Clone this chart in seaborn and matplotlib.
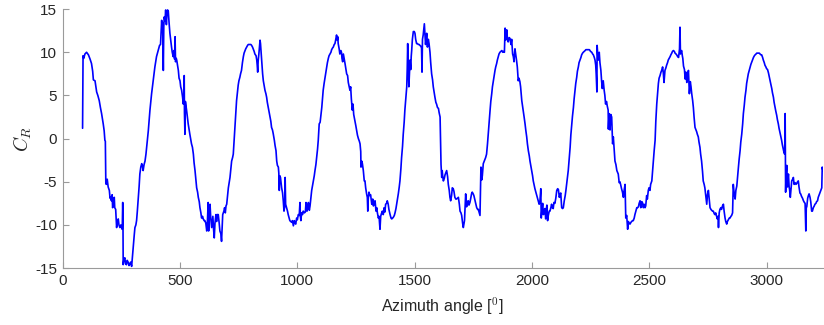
import matplotlib
matplotlib.use("Agg")
import matplotlib.pyplot as plt
import seaborn as sns
import pandas as pd

# Rotor coefficient C_R against azimuth angle, one list of (azimuth, C_R) per revolution
rev_1 = [(85, 1.2), (87, 9.6), (90, 9.3), (95, 9.8), (102, 10.0), (110, 9.7), (117, 9.2), (123, 8.7), (128, 7.8),
         (131, 6.8), (138, 6.7), (145, 5.4), (150, 5.0), (156, 4.4), (161, 3.6), (166, 2.9), (173, 1.7), (177, 0.9),
         (180, -0.2), (182, -0.3), (184, -5.1), (186, -5.3), (190, -4.7), (194, -5.6), (199, -6.0), (202, -6.9),
         (204, -6.8), (208, -7.2), (211, -6.5), (213, -8.0), (216, -7.6), (220, -6.8), (222, -8.0), (226, -8.2),
         (230, -10.3), (233, -9.6), (237, -9.3), (240, -10.0), (244, -10.3), (248, -10.0), (251, -10.3), (254, -10.5),
         (256, -7.4), (257, -9.0), (258, -14.6), (261, -14.0), (265, -13.8), (268, -14.5), (272, -14.6), (275, -14.1),
         (279, -14.3), (283, -14.7), (286, -14.5), (290, -14.3), (294, -14.8), (297, -13.8), (301, -12.4),
         (305, -11.2), (308, -10.3), (312, -10.0), (315, -9.5), (318, -8.5), (322, -7.0), (326, -5.5), (329, -4.1),
         (333, -3.3), (337, -2.9), (340, -3.2), (343, -3.7), (347, -3.0), (351, -2.6), (355, -1.8), (358, -1.0)]
rev_2 = [(365, 0.9), (372, 3.3), (379, 5.2), (386, 6.7), (393, 8.3), (400, 9.5), (407, 10.2), (413, 10.8),
         (417, 10.9), (420, 12.5), (422, 13.7), (424, 12.6), (426, 13.4), (429, 7.9), (431, 13.0), (433, 14.1),
         (436, 13.6), (439, 14.9), (442, 13.2), (445, 14.6), (447, 14.9), (450, 14.8), (453, 13.6), (457, 12.2),
         (460, 11.5), (464, 10.6), (467, 10.0), (471, 9.5), (474, 10.2), (477, 9.2), (479, 11.8), (481, 8.9),
         (484, 9.3), (486, 9.1), (490, 8.4), (493, 7.9), (496, 7.0), (500, 6.7), (503, 6.0), (507, 5.6), (511, 4.8),
         (514, 4.0), (516, 4.8), (518, 7.3), (519, 3.0), (521, 0.5), (523, 4.3), (528, 3.3), (532, 2.4), (535, 1.7),
         (539, 1.0), (542, 0.5), (546, -0.1), (549, -0.6), (553, -1.0), (557, -1.8), (560, -2.8), (564, -3.7),
         (567, -4.6), (571, -5.7), (575, -6.2), (578, -6.8), (582, -7.3), (585, -8.0), (589, -8.6), (592, -9.2),
         (596, -9.0), (599, -9.3), (603, -9.5), (606, -9.5), (610, -9.8), (614, -10.7), (617, -9.5), (620, -7.4),
         (622, -10.7), (625, -8.4), (628, -7.6), (631, -9.2), (635, -10.3), (640, -9.0), (643, -10.5), (646, -11.5),
         (649, -9.8), (653, -8.8), (656, -9.6), (658, -8.8), (663, -8.8), (667, -9.8), (670, -10.7), (674, -11.0),
         (677, -11.9), (680, -10.2), (682, -8.8), (687, -8.4), (690, -8.0), (693, -8.6), (696, -7.8), (699, -7.6),
         (702, -6.8), (706, -5.7), (710, -5.0), (713, -4.5), (717, -3.4)]
rev_3 = [(720, -2.6), (724, -2.2), (727, -1.8), (731, 0.0), (734, 1.3), (738, 3.0), (741, 4.4), (745, 5.5),
         (748, 6.2), (751, 6.7), (755, 7.1), (758, 7.5), (762, 7.9), (766, 8.8), (770, 9.5), (773, 9.9), (777, 10.2),
         (780, 10.4), (784, 10.6), (788, 10.8), (791, 10.9), (795, 10.9), (798, 10.9), (802, 10.9), (805, 10.8),
         (809, 10.6), (812, 10.4), (816, 10.1), (819, 9.8), (824, 9.6), (827, 9.1), (829, 8.5), (831, 7.7),
         (833, 9.0), (836, 9.8), (838, 10.5), (841, 11.4), (843, 11.0), (845, 10.2), (848, 9.1), (850, 8.2),
         (852, 7.5), (855, 6.7), (858, 6.2), (862, 5.6), (866, 5.2), (869, 4.8), (872, 4.2), (876, 3.6), (880, 3.0),
         (883, 2.5), (887, 2.0), (890, 1.3), (894, 1.0), (897, 0.6), (902, -0.2), (905, -0.8), (909, -1.4),
         (912, -2.6), (915, -3.1), (919, -3.3), (921, -4.0), (923, -6.0), (925, -4.3), (928, -4.5), (933, -5.7),
         (937, -6.3), (940, -7.2), (943, -8.4), (946, -7.9), (948, -4.5), (950, -7.6), (954, -8.0), (958, -8.4),
         (961, -8.8), (965, -9.2), (968, -9.5), (972, -9.6), (976, -9.7), (979, -9.5), (983, -10.1), (987, -9.5),
         (990, -9.8), (993, -9.9), (997, -9.2), (1000, -9.4), (1004, -8.8), (1008, -8.9), (1011, -7.4),
         (1013, -9.0), (1015, -9.5), (1018, -8.6), (1022, -8.8), (1025, -8.4), (1030, -8.6), (1034, -8.5),
         (1037, -7.4), (1041, -8.4), (1044, -8.0), (1047, -7.4), (1051, -8.3), (1054, -7.8), (1058, -6.8),
         (1061, -6.0), (1065, -5.4), (1068, -4.9), (1072, -4.3), (1075, -3.7), (1079, -3.0)]
rev_4 = [(1082, -2.2), (1086, -1.2), (1089, -0.2), (1093, 1.7), (1097, 1.9), (1100, 2.6), (1104, 3.6),
         (1107, 4.6), (1110, 5.6), (1114, 6.4), (1118, 7.1), (1121, 7.7), (1125, 8.3), (1128, 8.8), (1132, 9.3),
         (1135, 9.6), (1139, 9.8), (1143, 10.0), (1146, 10.3), (1150, 10.5), (1153, 10.6), (1157, 10.9),
         (1160, 11.0), (1163, 11.4), (1167, 12.0), (1170, 11.4), (1172, 11.8), (1174, 11.0), (1178, 10.4),
         (1181, 9.8), (1185, 10.2), (1188, 10.0), (1190, 9.3), (1193, 8.9), (1196, 9.8), (1200, 9.2), (1203, 8.7),
         (1206, 8.2), (1210, 7.5), (1214, 7.3), (1217, 6.5), (1221, 6.0), (1224, 5.6), (1227, 6.0), (1230, 4.6),
         (1234, 3.3), (1237, 4.0), (1240, 2.8), (1245, 2.1), (1249, 1.5), (1253, 0.9), (1256, 0.4), (1260, 0.0),
         (1264, -0.3), (1267, -0.6), (1270, -1.5), (1271, -3.3), (1274, -2.6), (1277, -2.9), (1281, -3.7),
         (1285, -4.9), (1288, -4.9), (1291, -5.7), (1295, -6.4), (1298, -6.8), (1300, -8.4), (1302, -7.0),
         (1305, -6.2), (1309, -6.6), (1312, -6.5), (1317, -7.6), (1321, -7.0), (1324, -7.8), (1327, -7.5),
         (1331, -7.2), (1335, -8.4), (1338, -8.0), (1341, -8.6), (1345, -9.2), (1348, -9.0), (1352, -10.5),
         (1355, -9.0), (1358, -8.7), (1362, -8.4), (1366, -8.8), (1370, -8.0), (1373, -8.5), (1376, -7.6),
         (1380, -7.5), (1383, -7.2), (1387, -7.6), (1390, -8.2), (1395, -8.8), (1399, -9.2), (1402, -9.3),
         (1406, -9.2), (1409, -9.1), (1413, -8.9), (1416, -8.6), (1420, -8.1), (1423, -7.6), (1427, -7.0),
         (1430, -6.4), (1434, -5.6), (1437, -4.9)]
rev_5 = [(1441, -3.5), (1444, -2.2), (1448, -0.9), (1451, 0.5), (1455, 1.9), (1458, 3.3), (1462, 4.6), (1466, 6.0),
         (1468, 8.0), (1470, 11.0), (1472, 8.5), (1475, 6.0), (1478, 7.8), (1480, 9.1), (1483, 8.0), (1485, 9.5),
         (1487, 10.2), (1490, 11.5), (1494, 12.4), (1498, 12.4), (1501, 12.2), (1504, 11.5), (1508, 11.0),
         (1512, 11.0), (1515, 10.9), (1519, 10.9), (1522, 10.8), (1526, 10.7), (1529, 10.5), (1531, 7.7),
         (1533, 11.5), (1536, 12.0), (1539, 12.8), (1541, 13.3), (1544, 11.8), (1546, 10.9), (1549, 11.6),
         (1551, 12.2), (1554, 10.6), (1558, 11.5), (1561, 11.0), (1565, 10.0), (1568, 8.8), (1572, 7.5),
         (1576, 6.8), (1579, 6.0), (1583, 5.3), (1586, 4.8), (1590, 4.2), (1593, 4.0), (1597, 3.6), (1601, 3.5),
         (1604, 3.0), (1608, 2.5), (1610, 0.0), (1612, -3.0), (1615, -4.5), (1617, -3.7), (1619, -4.3), (1622, -4.9),
         (1626, -4.6), (1629, -4.2), (1633, -3.9), (1636, -3.7), (1640, -4.4), (1643, -5.3), (1647, -6.0),
         (1650, -6.8), (1653, -7.2), (1657, -6.6), (1660, -5.7), (1664, -5.8), (1667, -6.1), (1671, -6.8),
         (1675, -7.0), (1678, -7.0), (1682, -6.9), (1686, -6.8), (1690, -7.6), (1693, -8.4), (1697, -8.6),
         (1700, -8.9), (1704, -9.8), (1707, -10.3), (1710, -9.8), (1712, -9.5), (1715, -7.8), (1717, -6.4),
         (1721, -7.9), (1724, -7.3), (1728, -7.2), (1731, -7.7), (1735, -7.4), (1738, -7.0), (1742, -6.4),
         (1745, -6.2), (1749, -6.4), (1752, -6.6), (1757, -7.2), (1760, -7.6), (1764, -8.0), (1768, -8.2),
         (1771, -8.2), (1775, -8.6), (1778, -8.9), (1780, -6.0), (1782, -3.3), (1785, -4.8), (1788, -4.3),
         (1792, -2.9), (1795, -2.7), (1799, -2.4)]
rev_6 = [(1802, -2.2), (1806, -1.8), (1810, -0.6), (1813, 0.5), (1817, 2.0), (1821, 3.3), (1824, 4.3), (1828, 5.2),
         (1831, 6.0), (1835, 6.7), (1838, 7.3), (1842, 7.9), (1845, 8.3), (1849, 8.7), (1852, 9.1), (1856, 9.5),
         (1859, 9.8), (1863, 10.0), (1867, 10.1), (1871, 10.2), (1875, 10.0), (1878, 10.1), (1882, 10.0),
         (1885, 12.8), (1887, 11.4), (1889, 11.8), (1892, 12.6), (1895, 11.5), (1898, 11.2), (1902, 11.7),
         (1906, 11.6), (1910, 10.9), (1913, 11.5), (1917, 9.8), (1920, 9.5), (1923, 8.9), (1925, 9.8), (1927, 10.4),
         (1930, 9.8), (1934, 9.0), (1937, 8.3), (1941, 6.7), (1944, 7.0), (1948, 6.6), (1951, 6.0), (1956, 4.4),
         (1962, 3.3), (1966, 2.5), (1970, 1.7), (1973, 1.0), (1977, 0.2), (1980, -0.6), (1984, -1.4), (1988, -2.0),
         (1991, -2.6), (1995, -3.2), (1998, -3.7), (2002, -4.3), (2005, -4.9), (2009, -5.4), (2012, -5.8),
         (2016, -6.2), (2020, -6.6), (2023, -6.9), (2026, -7.2), (2030, -7.6), (2033, -7.4), (2037, -5.8),
         (2039, -9.2), (2042, -8.2), (2045, -7.5), (2048, -8.8), (2051, -8.6), (2054, -8.1), (2058, -9.3),
         (2061, -8.1), (2063, -7.7), (2066, -9.5), (2069, -8.9), (2073, -8.4), (2076, -8.4), (2080, -8.0),
         (2083, -7.6), (2086, -8.0), (2090, -8.1), (2093, -7.4), (2097, -7.5), (2101, -6.9), (2105, -6.0),
         (2109, -5.8), (2112, -5.9), (2116, -6.8), (2119, -6.5), (2122, -6.3), (2126, -8.0), (2130, -8.1),
         (2133, -8.0), (2137, -7.2), (2141, -6.6), (2144, -6.0), (2148, -5.1), (2151, -4.4), (2154, -3.7),
         (2158, -2.3)]
rev_7 = [(2162, -1.0), (2165, 0.4), (2169, 1.7), (2172, 2.6), (2176, 3.6), (2179, 4.6), (2183, 5.6), (2186, 6.4),
         (2190, 7.1), (2193, 7.8), (2197, 8.3), (2200, 8.8), (2204, 9.1), (2208, 9.4), (2211, 9.7), (2215, 9.9),
         (2218, 10.0), (2222, 10.1), (2226, 10.2), (2229, 10.3), (2233, 10.3), (2239, 10.3), (2244, 10.3),
         (2249, 10.1), (2254, 10.0), (2258, 9.8), (2261, 9.7), (2265, 9.4), (2268, 9.1), (2271, 8.5), (2273, 7.5),
         (2276, 5.4), (2277, 10.8), (2280, 9.6), (2283, 9.1), (2286, 10.0), (2289, 8.8), (2293, 7.9), (2296, 6.7),
         (2299, 5.8), (2303, 6.7), (2307, 5.6), (2310, 5.0), (2313, 4.0), (2317, 4.3), (2320, 3.8), (2324, 3.3),
         (2325, 1.1), (2328, 2.9), (2332, 1.0), (2335, 2.8), (2339, 2.5), (2343, -0.6), (2346, 0.2), (2350, -1.4),
         (2353, -2.6), (2357, -3.0), (2361, -3.7), (2364, -3.9), (2367, -4.1), (2371, -5.1), (2374, -5.0),
         (2377, -5.3), (2381, -5.8), (2385, -6.2), (2389, -6.8), (2392, -6.0), (2396, -5.3), (2399, -9.2),
         (2403, -8.9), (2407, -10.5), (2410, -9.6), (2413, -9.8), (2417, -9.9), (2421, -9.7), (2424, -9.6),
         (2428, -9.5), (2431, -9.5), (2435, -9.2), (2438, -8.8), (2442, -8.4), (2446, -8.0), (2449, -8.0),
         (2453, -7.9), (2456, -7.5), (2460, -7.2), (2463, -8.0), (2467, -7.3), (2470, -7.4), (2474, -8.0),
         (2477, -7.6), (2481, -8.0), (2484, -7.8), (2488, -6.6), (2491, -7.0), (2495, -6.0), (2498, -5.7),
         (2502, -6.0), (2505, -5.3), (2510, -4.9), (2513, -3.8), (2516, -2.6), (2520, -1.4)]
rev_8 = [(2524, -0.2), (2527, 2.0), (2531, 4.0), (2535, 5.4), (2538, 6.4), (2541, 7.0), (2545, 7.3), (2549, 7.7),
         (2552, 7.9), (2556, 8.3), (2559, 7.6), (2562, 6.5), (2566, 7.9), (2570, 8.2), (2573, 8.5), (2577, 8.8),
         (2580, 9.1), (2584, 9.3), (2588, 9.5), (2591, 9.7), (2595, 9.9), (2598, 10.1), (2602, 10.2), (2606, 10.1),
         (2609, 9.9), (2613, 9.8), (2616, 9.7), (2620, 9.5), (2624, 9.4), (2628, 10.4), (2630, 12.9), (2632, 9.8),
         (2634, 10.0), (2637, 10.2), (2640, 9.6), (2642, 9.3), (2645, 8.4), (2649, 8.0), (2652, 6.9), (2655, 7.7),
         (2659, 6.5), (2663, 7.4), (2666, 7.9), (2668, 6.6), (2670, 5.2), (2674, 6.6), (2677, 6.0), (2680, 5.2),
         (2684, 4.4), (2687, 3.6), (2690, 2.5), (2694, 1.3), (2697, 1.1), (2701, 0.8), (2704, 0.5), (2708, 0.2),
         (2711, -0.4), (2715, -1.0), (2718, -1.8), (2722, -2.6), (2726, -3.8), (2729, -4.9), (2733, -5.3),
         (2736, -5.7), (2740, -6.6), (2744, -7.6), (2747, -6.5), (2751, -6.0), (2755, -7.2), (2758, -8.0),
         (2762, -8.2), (2765, -8.3), (2769, -8.4), (2772, -8.4), (2776, -8.7), (2779, -8.8), (2782, -8.6),
         (2786, -9.0), (2789, -9.3), (2792, -9.0), (2794, -10.3), (2797, -8.6), (2800, -8.2), (2804, -8.0),
         (2807, -8.2), (2811, -7.8), (2815, -7.6), (2818, -8.4), (2822, -9.2), (2825, -9.6), (2829, -9.9),
         (2832, -9.6), (2836, -9.4), (2840, -9.2), (2843, -9.2), (2847, -9.0), (2850, -8.9), (2854, -8.6),
         (2857, -5.3), (2861, -6.4), (2865, -7.0), (2868, -6.0), (2872, -5.5), (2875, -4.5)]
rev_9 = [(2879, -3.3), (2882, -2.4), (2886, -1.4), (2889, -0.4), (2893, 0.5), (2897, 1.7), (2900, 2.9), (2904, 3.9),
         (2907, 4.8), (2911, 5.6), (2914, 6.4), (2918, 7.0), (2921, 7.5), (2925, 7.9), (2929, 8.3), (2932, 8.6),
         (2936, 8.9), (2940, 9.2), (2943, 9.4), (2947, 9.6), (2950, 9.7), (2954, 9.8), (2957, 9.9), (2961, 9.9),
         (2964, 9.9), (2968, 9.9), (2971, 9.8), (2975, 9.7), (2978, 9.7), (2982, 9.4), (2985, 9.1), (2989, 8.8),
         (2992, 8.5), (2996, 8.3), (2999, 8.1), (3003, 8.0), (3007, 7.6), (3010, 7.2), (3014, 6.7), (3017, 6.3),
         (3021, 5.8), (3024, 5.3), (3028, 4.8), (3031, 4.2), (3035, 3.6), (3038, 3.2), (3042, 2.7), (3045, 2.2),
         (3049, 1.7), (3052, 1.2), (3056, 0.7), (3059, 0.3), (3063, -0.2), (3066, -0.7), (3070, -1.2), (3073, -1.6),
         (3076, -1.8), (3078, 2.9), (3079, -2.0), (3080, -6.2), (3082, -4.0), (3085, -3.1), (3088, -5.6),
         (3090, -4.7), (3092, -4.1), (3095, -5.6), (3097, -5.9), (3100, -6.8), (3103, -5.8), (3106, -4.9),
         (3110, -4.7), (3113, -4.5), (3116, -5.3), (3120, -5.1), (3124, -5.3), (3127, -5.2), (3131, -5.0),
         (3134, -4.9), (3137, -5.6), (3141, -6.3), (3144, -6.4), (3148, -6.7), (3152, -6.9), (3156, -7.2),
         (3160, -7.4), (3163, -7.5), (3166, -10.7), (3168, -8.0), (3170, -7.9), (3174, -6.9), (3177, -6.6),
         (3180, -6.4), (3184, -6.8), (3187, -7.3), (3191, -8.4), (3194, -8.4), (3198, -8.0), (3202, -7.8),
         (3205, -7.6), (3209, -7.5), (3212, -7.3), (3216, -7.2), (3219, -6.8), (3223, -6.5), (3227, -6.2),
         (3230, -6.0), (3234, -5.7), (3236, -3.3), (3238, -3.6), (3240, -3.7)]

x_ticks = [0, 500, 1000, 1500, 2000, 2500, 3000]
y_ticks = [-15, -10, -5, 0, 5, 10, 15]

revolutions = [rev_1, rev_2, rev_3, rev_4, rev_5, rev_6, rev_7, rev_8, rev_9]
rows = [pt for rev in revolutions for pt in rev]
df = pd.DataFrame(rows, columns=["azimuth", "cr"])

sns.set_theme(style="white")
plt.rcParams["font.family"] = ["Liberation Sans", "DejaVu Sans"]
plt.rcParams["mathtext.fontset"] = "cm"
plt.rcParams["axes.unicode_minus"] = False

axis_grey = "#9a9a9a"
text_dark = "#262626"

fig = plt.figure(figsize=(8.24, 3.25), dpi=100)
ax = fig.add_axes([0.076, 0.175, 0.923, 0.797])

sns.lineplot(data=df, x="azimuth", y="cr", ax=ax, sort=False, estimator=None,
             color="#0000ff", linewidth=1.2)

ax.set_xlim(0, 3240)
ax.set_ylim(-15, 15)
ax.set_xticks(x_ticks)
ax.set_yticks(y_ticks)
ax.tick_params(bottom=True, left=True, direction="in", length=4.5, width=0.8, color=axis_grey,
               labelsize=11, labelcolor=text_dark, pad=4)

for side in ["top", "right"]:
    ax.spines[side].set_visible(False)
for side in ["left", "bottom"]:
    ax.spines[side].set_color(axis_grey)
    ax.spines[side].set_linewidth(0.8)

ax.set_xlabel(r"Azimuth angle [$^0$]", fontsize=11.5, color=text_dark, labelpad=6)
ax.set_ylabel(r"$C_R$", fontsize=14, color=text_dark, labelpad=1)

fig.savefig("out.png", dpi=100, facecolor="white")
